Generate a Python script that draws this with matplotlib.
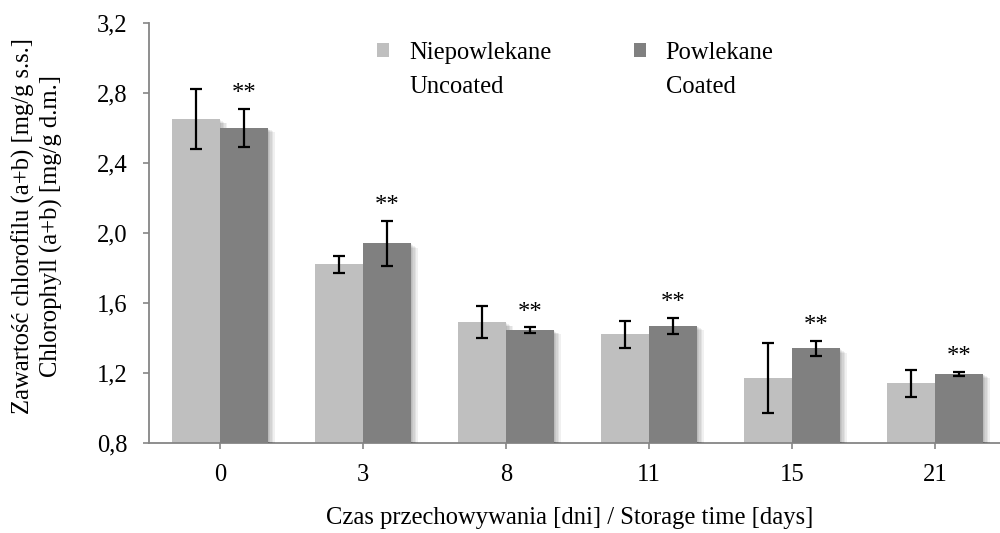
import numpy as np
import matplotlib
matplotlib.use("Agg")
import matplotlib.pyplot as plt
import matplotlib.patheffects as pe

plt.rcParams["font.family"] = ["Liberation Serif", "DejaVu Serif"]

# --- data --------------------------------------------------------------------
days = ["0", "3", "8", "11", "15", "21"]
uncoated = [2.65, 1.82, 1.49, 1.42, 1.17, 1.14]
uncoated_err = [0.17, 0.05, 0.09, 0.075, 0.20, 0.075]
coated = [2.60, 1.94, 1.445, 1.47, 1.34, 1.195]
coated_err = [0.11, 0.13, 0.015, 0.045, 0.045, 0.013]
marks = ["**", "**", "**", "**", "**", "**"]
yticks = [0.8, 1.2, 1.6, 2.0, 2.4, 2.8, 3.2]

C_UNC = "#bfbfbf"
C_COAT = "#808080"
AXC = "#868686"
FS = 17.7

# soft drop shadow, roughly like the spreadsheet bar shadow
SHADOW = [pe.SimplePatchShadow(offset=(i, -0.6 * i), shadow_rgbFace="k", alpha=0.06)
          for i in range(1, 6)] + [pe.Normal()]

fig = plt.figure(figsize=(10, 5.33), dpi=100)
ax = fig.add_axes([0.1485, 0.169, 0.858, 0.788])

x = np.arange(len(days))
w = 1 / 3
b1 = ax.bar(x - w / 2, uncoated, w, color=C_UNC, label="Niepowlekane", zorder=2)
b2 = ax.bar(x + w / 2, coated, w, color=C_COAT, label="Powlekane", zorder=3)
for p in list(b1) + list(b2):
    p.set_path_effects(SHADOW)

ekw = dict(fmt="none", ecolor="black", elinewidth=1.6, capsize=4, capthick=1.6, zorder=5)
ax.errorbar(x - w / 2, uncoated, yerr=uncoated_err, **ekw)
ax.errorbar(x + w / 2, coated, yerr=coated_err, **ekw)

for xi, v, e, m in zip(x, coated, coated_err, marks):
    ax.annotate(m, (xi + w / 2, v + e), xytext=(0, 2.5), textcoords="offset points",
                ha="center", va="bottom", fontsize=FS)

ax.set_xlim(-0.5, len(days) - 0.5)
ax.set_ylim(0.8, 3.2)
ax.set_yticks(yticks)
ax.set_yticklabels([f"{t:.1f}".replace(".", ",") for t in yticks])
ax.set_xticks(x)
ax.set_xticklabels(days)

for s in ("top", "right"):
    ax.spines[s].set_visible(False)
for s in ("left", "bottom"):
    ax.spines[s].set_color(AXC)
    ax.spines[s].set_linewidth(1.3)
ax.tick_params(axis="y", length=4, width=1.2, color=AXC, pad=11, labelsize=FS)
ax.tick_params(axis="x", length=4, width=1.2, color=AXC, pad=11, labelsize=FS)

fig.text(0.57, 0.028, "Czas przechowywania [dni] / Storage time [days]",
         ha="center", va="center", fontsize=FS)
fig.text(0.037, 0.576, "Zawartość chlorofilu (a+b) [mg/g s.s.]\nChlorophyll (a+b) [mg/g d.m.]",
         ha="center", va="center", rotation=90, fontsize=FS, linespacing=1.3,
         multialignment="center")

leg = ax.legend(ncol=2, loc="upper left", bbox_to_anchor=(0.377, 0.922),
                bbox_transform=fig.transFigure, frameon=False, fontsize=FS,
                handlelength=0.5, handleheight=0.5, handletextpad=0.8,
                columnspacing=3.35, borderpad=0, borderaxespad=0)
for h in leg.legend_handles:
    h.set_path_effects([])
for t, second in zip(leg.get_texts(), ["Uncoated", "Coated"]):
    ax.annotate(second, xy=(0, 0), xycoords=t, xytext=(0, -9), textcoords="offset points",
                ha="left", va="top", fontsize=FS, zorder=10)

fig.savefig("out.png", dpi=100)
